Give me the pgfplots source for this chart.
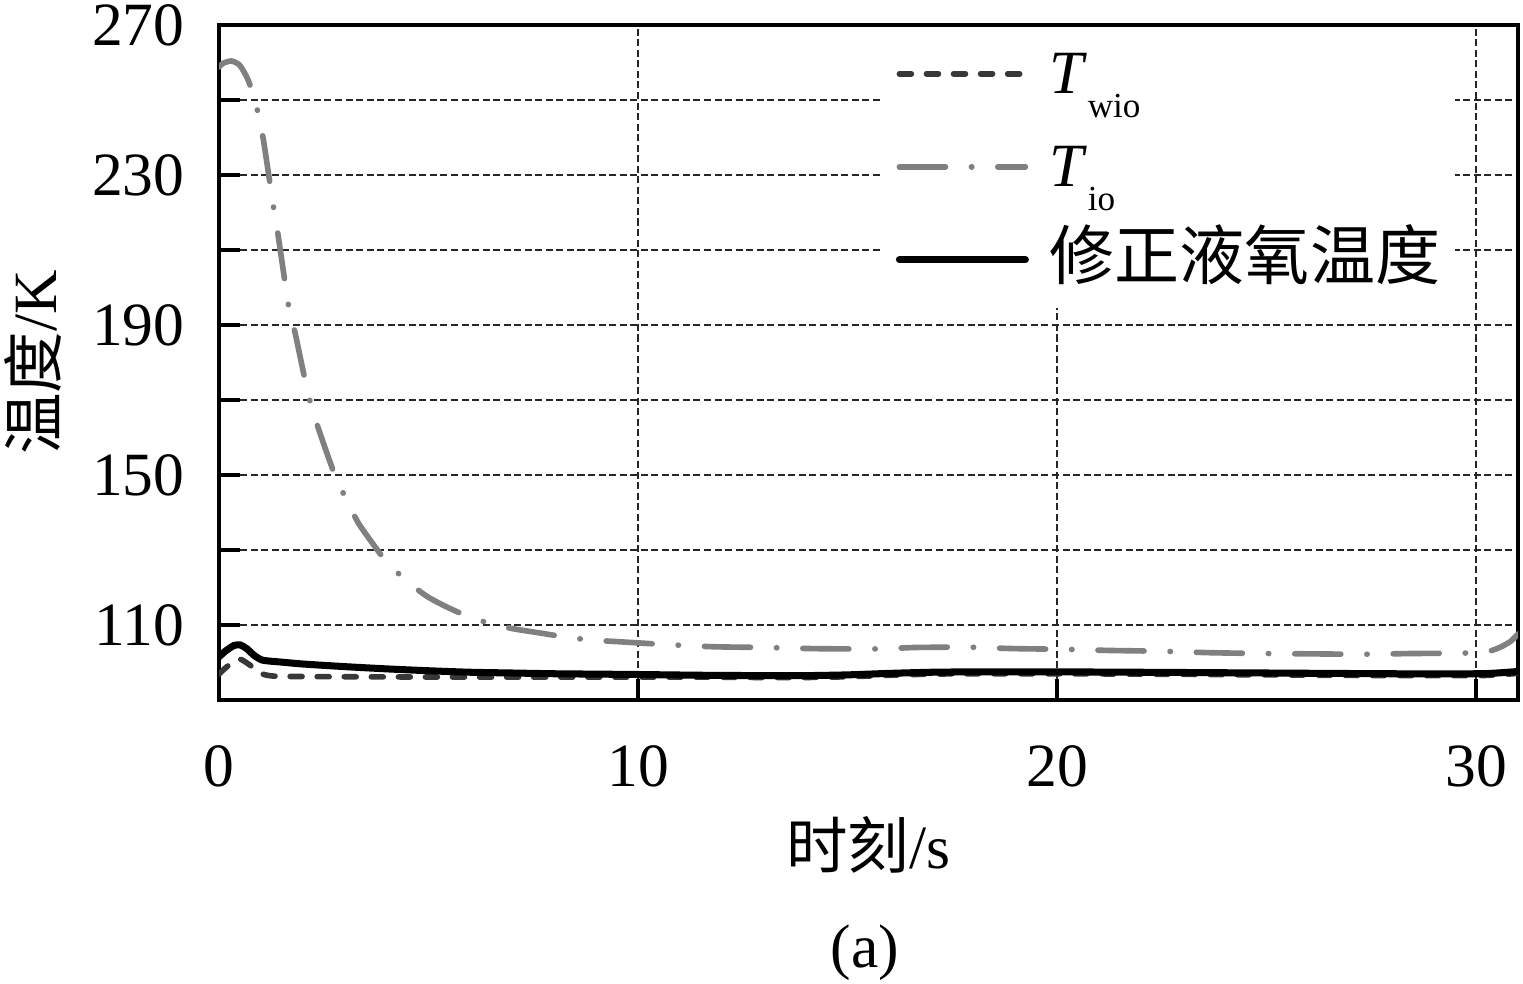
\documentclass[border=0pt]{standalone}
\usepackage{pgfplots}
\pgfplotsset{compat=1.18}
\usepackage{fontspec}
\setmainfont{Liberation Serif}
\newfontfamily\cjk{Noto Sans CJK SC}
\newcommand\lstrut{\rule[-0.28cm]{0pt}{0.93cm}}
\newcommand\mainfs{\fontsize{17.5}{21}\selectfont}
\begin{document}
\begin{tikzpicture}
\useasboundingbox (-2.19,-2.84) rectangle (13.04,7.00);
\begin{axis}[
  scale only axis,
  width=12.99cm, height=6.75cm,
  xmin=0, xmax=31, ymin=90, ymax=270,
  xtick={0,10,20,30},
  ytick={110,130,150,170,190,210,230,250,270},
  yticklabels={110,,150,,190,,230,,270},
  tick pos=left,
  tick align=inside,
  major tick length=0.21cm,
  tick style={line width=1.3pt, black},
  axis line style={line width=1.4pt},
  grid=major,
  major grid style={dash pattern=on 2pt off 1pt, line width=0.6pt, black!85},
  /pgf/number format/assume math mode=true,
  every tick label/.append style={font=\mainfs},
  xticklabel style={anchor=north, inner sep=0pt, yshift=-0.45cm},
  yticklabel style={anchor=east, inner sep=0pt, xshift=-0.34cm},
  xlabel={{\cjk 时刻}/s},
  ylabel={{\cjk 温度}/K},
  label style={font=\mainfs},
  xlabel style={at={(axis description cs:0.5,-0.2148)}, anchor=center},
  ylabel style={at={(axis description cs:-0.1432,0.5)}, anchor=center},
  legend style={at={(axis description cs:0.509,0.99556)}, anchor=north west,
    draw=none, fill=white, inner xsep=0.15cm, inner ysep=0pt,
    font=\mainfs, row sep=0pt,
    nodes={inner sep=0pt, text depth=, text height=},
    cells={anchor=base west},
    /tikz/every odd column/.append style={column sep=0.21cm}},
  legend image code/.code={\draw[#1, line cap=round] (0cm,0.2cm) -- (1.26cm,0.2cm);},
]
\addplot[color=black!78, line width=1.6pt, line cap=round, dash pattern=on 3.4pt off 4.3pt, smooth, tension=0.4] coordinates {
(0,96.9)(0.15,98.5)(0.35,100.3)(0.5,100.9)(0.65,100)(0.8,98.8)(1.0,97.1)(1.2,96.5)(1.5,96.3)(3,96.2)(6,96.1)(9,96.1)(11.5,96.1)(13,96.0)(14,96.0)(15,96.2)(16,96.6)(17,96.9)(18,97.0)(20,97.0)(22,96.9)(25,96.7)(28,96.5)(30,96.5)(30.5,96.7)(31,97.1)
};
\addlegendentry{\textit{T}\raisebox{-0.24cm}{\fontsize{10}{10}\selectfont wio}\lstrut}
\addplot[color=black!50, line width=1.6pt, line cap=round, dash pattern=on 13.1pt off 7.4pt on 0.1pt off 7.4pt, smooth, tension=0.4] coordinates {
(0,258.8)(0.1,259.8)(0.3,260.4)(0.5,259.2)(0.7,255.2)(0.9,248)(1.05,240)(1.2,229)(1.3,221.5)(1.41,214)(1.58,201)(1.67,194.5)(1.82,187.7)(2.05,175.5)(2.2,168.5)(2.39,161.8)(2.77,149.8)(3.03,143.7)(3.32,137.3)(3.65,132)(3.96,127.4)(4.42,122.3)(4.94,117.8)(5.4,115)(5.92,112.4)(6.52,110.2)(7.07,108.9)(7.7,107.8)(8.26,106.8)(8.86,106)(9.46,105.6)(10.65,104.8)(11.8,104.2)(13,104.0)(14.2,103.7)(15.4,103.6)(16,103.7)(16.6,104)(17.8,104.1)(18.4,103.9)(19,103.7)(20.2,103.5)(21.3,103.2)(22.5,103.0)(23.7,102.6)(24.9,102.4)(26.1,102.3)(27.3,102.2)(28.5,102.4)(29.7,102.5)(30.3,103)(30.6,104.2)(30.83,105.7)(31,107.6)
};
\addlegendentry{\textit{T}\raisebox{-0.24cm}{\fontsize{10}{10}\selectfont io}\lstrut}
\addplot[color=black, line width=2pt, line cap=round, smooth, tension=0.4] coordinates {
(0,101.5)(0.15,103)(0.35,104.5)(0.5,104.7)(0.65,103.8)(0.85,101.8)(1.05,100.6)(1.5,100.1)(2,99.6)(3,98.9)(4,98.3)(5,97.8)(6,97.4)(7,97.2)(8,97)(9,96.9)(10,96.8)(11.5,96.6)(13,96.5)(14,96.5)(15,96.7)(16,97.1)(17,97.4)(18,97.5)(20,97.5)(22,97.4)(25,97.2)(28,97.0)(30,97.0)(30.5,97.2)(31,97.6)
};
\addlegendentry{{\cjk\fontsize{18.5}{21}\selectfont 修正液氧温度}\lstrut}
\end{axis}
\node[font=\mainfs] at (6.46,-2.53) {(a)};
\end{tikzpicture}
\end{document}
